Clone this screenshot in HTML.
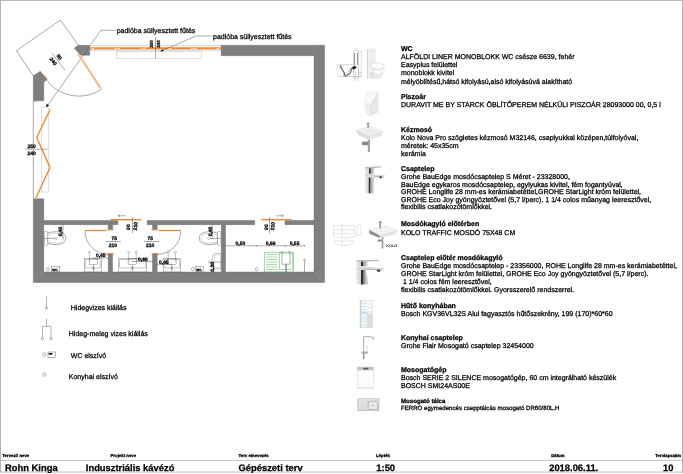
<!DOCTYPE html>
<html><head><meta charset="utf-8">
<style>
html,body{margin:0;padding:0;background:#fff;}
body{width:683px;height:474px;overflow:hidden;position:relative;font-family:"Liberation Sans",sans-serif;}
svg{position:absolute;left:0;top:0;opacity:0.999;}
text{font-family:"Liberation Sans",sans-serif;fill:#000;stroke:#000;stroke-width:0.26px;text-rendering:geometricPrecision;}
.t{font-size:7px;}
.b{font-size:7px;font-weight:bold;}
.w{fill:#7f7f7f;}
.l{stroke:#555;stroke-width:0.5;fill:none;}
.o{stroke:#f58634;fill:none;}
.d{font-size:5px;font-weight:bold;}
</style></head><body>
<svg width="683" height="474" viewBox="0 0 683 474">
<!-- page border -->
<rect x="0" y="0" width="683" height="0.900" fill="#b4b4b4"/>
<rect x="0" y="0" width="1" height="472.500" fill="#b4b4b4"/>
<rect x="682" y="0" width="1" height="472.500" fill="#b4b4b4"/>
<rect x="0" y="471.600" width="683" height="0.900" fill="#b4b4b4"/>

<!-- WALLS -->
<g class="w" stroke="#5c5c5c" stroke-width="0.35" stroke-linejoin="miter">
<polygon points="221.1,45.2 324.600,45.2 324.600,282.500 33.3,282.500 33.3,198.7 43.8,198.7 43.8,220.5 117.8,220.5 117.8,224.7 112.6,224.7 112.6,229.5 108.2,229.5 108.2,224.7 43.8,224.7 43.8,272 108.2,272 108.2,253.7 112.6,253.7 112.6,272 152.5,272 152.5,253.7 157.2,253.7 157.2,272 221.3,272 221.3,224.7 157.2,224.7 157.2,229.5 152.5,229.5 152.5,224.7 147.2,224.7 147.2,220.5 254.7,220.5 254.7,224.7 225.5,224.7 225.5,272 314,272 314,224.7 285,224.7 285,220.5 314,220.5 314,55.7 221.1,55.7"/>
<polygon points="33.3,75.8 40.3,71.2 47,79.2 43.8,82.5 43.8,100.8 33.3,100.8"/>
<polygon points="74.2,48.3 78.3,45.3 89.7,45.3 89.7,55.3 80.8,55.3"/>
</g>
<line x1="314" y1="272" x2="324.8" y2="282.6" stroke="#a0a0a0" stroke-width="0.5"/>
<line x1="43.8" y1="272" x2="33.3" y2="282.6" stroke="#a0a0a0" stroke-width="0.5"/>
<line x1="314" y1="55.7" x2="314" y2="45.3" stroke="#9a9a9a" stroke-width="0.4"/>
<line x1="89.700" y1="45.300" x2="80.800" y2="55.300" stroke="#999" stroke-width="0.400"/>
<line x1="33.500" y1="75.800" x2="43.800" y2="82" stroke="#a5a5a5" stroke-width="0.350"/>

<!-- Door swing top-left -->
<polyline class="l" points="33.3,75.8 16.3,50.8 60.5,20 78.3,45.3"/>
<path class="l" d="M101.5,89.3 A40.700,40.700 0 0 1 46.2,79.8"/>
<line class="l" x1="52" y1="53" x2="65" y2="70.3"/>
<!-- leader 1 -->
<polyline class="l" points="116.3,30.3 100.8,30.3 46.400,107.200"/>
<polygon points="46.300,107.400 46.500,103.800 49,105.600" fill="#000"/>
<!-- door leaf -->
<line x1="78" y1="53.500" x2="100.8" y2="88.5" stroke="#f7a05e" stroke-width="1.800"/>
<line x1="78" y1="53.500" x2="100.8" y2="88.5" stroke="#fff" stroke-width="1" stroke-dasharray="0.500 0.700"/>
<line x1="44.5" y1="75.5" x2="47" y2="79.5" stroke="#f58634" stroke-width="0.9"/>
<line x1="34" y1="101.2" x2="37.5" y2="101.2" stroke="#f58634" stroke-width="0.8"/>
<text class="d" text-anchor="middle" transform="translate(53.3,61.200) rotate(53)" y="1.800">240</text>
<text class="d" text-anchor="middle" transform="translate(59.3,57) rotate(53)" y="1.800">90</text>

<!-- top window -->
<rect x="90" y="45.400" width="131" height="5.500" fill="#fff" stroke="#aaa" stroke-width="0.400"/>
<line x1="90" y1="48.400" x2="221" y2="48.400" stroke="#f58634" stroke-width="2.400"/>
<g fill="#fff"><rect x="91.500" y="48" width="2.500" height="0.800"/><rect x="114.500" y="48" width="2.300" height="0.800"/><rect x="117.700" y="48" width="2.300" height="0.800"/><rect x="141" y="48" width="1.800" height="0.800"/><rect x="143.500" y="48" width="1.800" height="0.800"/><rect x="168.500" y="48" width="3" height="0.800"/><rect x="191" y="48" width="2.300" height="0.800"/><rect x="194.200" y="48" width="2.300" height="0.800"/><rect x="216.500" y="48" width="2.500" height="0.800"/></g>
<rect x="116.2" y="51.7" width="85.3" height="6.6" fill="none" stroke="#b0b0b0" stroke-width="0.400"/>
<line class="l" x1="155.500" y1="37" x2="155.500" y2="58.500"/>
<text class="d" style="font-size:4.500px" text-anchor="middle" transform="translate(152.700,44) rotate(-90)">300</text>
<text class="d" style="font-size:4.500px" text-anchor="middle" transform="translate(159.900,44) rotate(-90)">240</text>
<polyline class="l" points="212,36 196,36 160.500,51.300"/>
<polygon points="160.300,51.500 162.800,49.300 163.500,51.100" fill="#000"/>
<text class="t" x="116.7" y="33.2">padlóba süllyesztett fűtés</text>
<text class="t" x="213" y="38.6">padlóba süllyesztett fűtés</text>

<!-- left window -->
<line class="l" x1="33.3" y1="101" x2="33.3" y2="198.7" stroke="#888"/>
<rect x="41.3" y="107" width="7.2" height="85" fill="none" stroke="#b0b0b0" stroke-width="0.400"/>
<polyline class="o" points="50,109.7 36.7,137.5 50,167.5 35.8,198.3" stroke-width="1.400"/>
<g fill="#fff" stroke="#f58634" stroke-width="0.300"><circle cx="36.700" cy="137.500" r="0.700"/><circle cx="50" cy="167.500" r="0.700"/><circle cx="49.800" cy="110.200" r="0.600"/><circle cx="36" cy="197.800" r="0.600"/></g>
<line class="l" x1="25.3" y1="149.2" x2="47.5" y2="149.2"/>
<text class="d" x="27.5" y="147.6">250</text>
<text class="d" x="27.5" y="154.6">240</text>

<!-- sliding doors -->
<line x1="110.300" y1="219.700" x2="141.300" y2="219.700" stroke="#f58634" stroke-width="1.400"/>
<line x1="261.3" y1="219.700" x2="291.7" y2="219.700" stroke="#f58634" stroke-width="1.400"/>
<g stroke="#666" stroke-width="0.500" fill="none">
<path d="M126,215.8 H118 M120,214.5 L118,215.8 L120,217"/>
<path d="M276.3,215.8 H283.5 M281.5,214.5 L283.5,215.8 L281.5,217"/>
</g>
<line class="l" x1="132.500" y1="217.200" x2="132.500" y2="233.300"/>
<line class="l" x1="269.500" y1="217.200" x2="269.500" y2="233.300"/>
<text class="d" text-anchor="middle" transform="translate(130.300,227.100) rotate(-90)">90</text>
<text class="d" text-anchor="middle" transform="translate(137.200,226.300) rotate(-84)">210</text>
<text class="d" text-anchor="middle" transform="translate(267.600,227.100) rotate(-90)">90</text>
<text class="d" text-anchor="middle" transform="translate(274.400,226.300) rotate(-84)">210</text>

<!-- swing doors -->
<line x1="85" y1="230.5" x2="106.500" y2="230.5" stroke="#f58634" stroke-width="1.300"/>
<path d="M107.700,228.300 v1.800 h5.400 v-1.800" stroke="#f58634" stroke-width="0.700" fill="none"/>
<path d="M107.700,255.300 v-1.900 h5.400 v1.900" stroke="#f58634" stroke-width="0.800" fill="none"/>
<path class="l" d="M85,231 A23.3,23.3 0 0 0 108.3,254.3" stroke="#777"/>
<line x1="158.800" y1="230.5" x2="180.8" y2="230.5" stroke="#f58634" stroke-width="1.300"/>
<path d="M152,228.300 v1.800 h5.700 v-1.800" stroke="#f58634" stroke-width="0.700" fill="none"/>
<path d="M152,255.300 v-1.900 h5.700 v1.900" stroke="#f58634" stroke-width="0.800" fill="none"/>
<path class="l" d="M180.8,231 A23.5,23.5 0 0 1 157.2,254.3" stroke="#777"/>
<line class="l" x1="105.5" y1="241.5" x2="120.8" y2="241.5"/>
<line class="l" x1="144" y1="241.5" x2="159.5" y2="241.5"/>
<text class="d" x="111.5" y="240">75</text>
<text class="d" x="108.8" y="247">210</text>
<text class="d" x="147.5" y="240">75</text>
<text class="d" x="146" y="247">210</text>

<!-- toilets -->
<g stroke="#444" stroke-width="0.450" fill="#fff">
<path d="M47.600,233 q4,-1.400 9.200,-1.300 q9,0.600 9,6.500 q0,5.900 -9,6.400 q-5.200,0.100 -9.200,-1.300 z"/>
<path d="M48.500,234.500 q3.500,-1.300 8,-1.200 q7.300,0.500 7.300,4.900 q0,4.500 -7.300,4.900 q-4.500,0.100 -8,-1.200" fill="none" stroke="#777" stroke-width="0.300"/>
<rect x="44.400" y="231.300" width="3.300" height="14.300" rx="1.200" stroke="#666" stroke-width="0.400"/>
<circle cx="56.200" cy="238.400" r="1.200" stroke="#666" stroke-width="0.350"/>
<path d="M217.400,233 q-4,-1.400 -9.200,-1.300 q-9,0.600 -9,6.500 q0,5.900 9,6.400 q5.200,0.100 9.200,-1.300 z"/>
<path d="M216.500,234.500 q-3.500,-1.300 -8,-1.200 q-7.300,0.500 -7.300,4.900 q0,4.500 7.300,4.900 q4.500,0.100 8,-1.200" fill="none" stroke="#777" stroke-width="0.300"/>
<rect x="217.500" y="231.300" width="3.300" height="14.300" rx="1.200" stroke="#666" stroke-width="0.400"/>
<circle cx="208.800" cy="238.400" r="1.200" stroke="#666" stroke-width="0.350"/>
<path d="M220.800,253.500 h-5.500 q-2.200,0 -2.600,3 l-1.300,7.500 q-0.200,4.500 4,5 h5.400 z" stroke="#666" stroke-width="0.400"/>
<path d="M220.800,255 h-4.500 q-1.500,0 -1.800,2.500 l-0.800,7 q0,3 2.600,3.300 h4.500" fill="none" stroke="#888" stroke-width="0.300"/>
<circle cx="209" cy="262" r="1" stroke="#666" stroke-width="0.350"/>
</g>
<line class="l" x1="44.500" y1="238.400" x2="55" y2="238.400" stroke-width="0.3"/>
<line class="l" x1="210" y1="238.400" x2="220.500" y2="238.400" stroke-width="0.3"/>
<line class="l" x1="62.900" y1="224.700" x2="62.900" y2="238.500" stroke="#333" stroke-width="0.400"/>
<text class="d" text-anchor="middle" transform="translate(62.200,231.500) rotate(-90)">0,40</text>
<line class="l" x1="212.400" y1="224.700" x2="212.400" y2="238.500" stroke="#333" stroke-width="0.400"/>
<text class="d" text-anchor="middle" transform="translate(211.700,231.500) rotate(-90)">0,40</text>
<line class="l" x1="213.400" y1="262" x2="213.400" y2="272" stroke="#333" stroke-width="0.400"/>
<line class="l" x1="210" y1="262" x2="221" y2="262" stroke-width="0.3"/>
<text class="d" text-anchor="middle" transform="translate(213.800,266.800) rotate(-90)">0,30</text>

<!-- sinks -->
<g stroke="#666" stroke-width="0.400" fill="none">
<rect x="84.3" y="258.200" width="17.0" height="13.800"/><rect x="85.3" y="259.400" width="15.0" height="8.500" rx="1"/><rect x="89.2" y="258.200" width="8.600" height="6.200"/><line x1="93.5" y1="264.400" x2="93.5" y2="272"/><circle cx="89.4" cy="252.300" r="1.050" fill="#fff"/><line x1="89.4" y1="253.400" x2="89.4" y2="261.500"/>
<rect x="118.4" y="258.200" width="28.4" height="13.800"/><rect x="119.4" y="259.400" width="26.4" height="8.500" rx="1"/><rect x="128.1" y="258.200" width="8.600" height="6.200"/><line x1="132.4" y1="264.400" x2="132.4" y2="272"/><circle cx="128.7" cy="252.300" r="1.050" fill="#fff"/><line x1="128.7" y1="253.400" x2="128.7" y2="261.500"/><circle cx="136.2" cy="252.300" r="1.050" fill="#fff"/><line x1="136.2" y1="253.400" x2="136.2" y2="261.500"/>
<rect x="163.2" y="258.200" width="17.2" height="13.800"/><rect x="164.2" y="259.400" width="15.2" height="8.500" rx="1"/><rect x="167.5" y="258.200" width="8.600" height="6.200"/><line x1="171.8" y1="264.400" x2="171.8" y2="272"/><circle cx="168.2" cy="252.300" r="1.050" fill="#fff"/><line x1="168.2" y1="253.400" x2="168.2" y2="261.500"/><circle cx="175.5" cy="252.300" r="1.050" fill="#fff"/><line x1="175.5" y1="253.400" x2="175.5" y2="261.500"/>
</g>
<g stroke="#222" stroke-width="0.35" fill="none">
<path d="M92.500,266.500 l2,3.200 M94.500,266.500 l-2,3.200"/><path d="M131.400,266.500 l2,3.200 M133.400,266.500 l-2,3.200"/><path d="M170.800,266.500 l2,3.200 M172.800,266.500 l-2,3.200"/>
</g>
<line class="l" x1="93.500" y1="258" x2="108.300" y2="258" stroke="#333" stroke-width="0.35"/>
<text class="d" x="95.900" y="257">0,45</text>
<line class="l" x1="132.400" y1="261.500" x2="152.500" y2="261.500" stroke="#333" stroke-width="0.35"/>
<text class="d" x="138" y="260.800">0,60</text>
<line class="l" x1="157.200" y1="264.300" x2="171.800" y2="264.300" stroke="#333" stroke-width="0.35"/>
<text class="d" x="159" y="264">0,45</text>
<g fill="#1a7a8a"><circle cx="93.500" cy="258" r="0.450"/><circle cx="108.300" cy="258" r="0.450"/><circle cx="132.400" cy="261.500" r="0.450"/><circle cx="152.500" cy="261.500" r="0.450"/><circle cx="157.200" cy="264.300" r="0.450"/><circle cx="171.800" cy="264.300" r="0.450"/></g>

<!-- WC elszivo in plan -->
<g stroke="#555" stroke-width="0.4" fill="#fff">
<ellipse cx="47.800" cy="269.200" rx="1.400" ry="1.900"/><rect x="51.300" y="266.600" width="8.500" height="5.200"/>
<ellipse cx="192.800" cy="269" rx="1.4" ry="1.7"/><rect x="195.5" y="266.7" width="8" height="5"/>
<ellipse cx="256.7" cy="269.2" rx="1.4" ry="1.7"/>
</g>
<text x="52.200" y="270.500" style="font-size:3.200px;font-weight:bold">WC</text>
<text x="196.300" y="270.500" style="font-size:3.200px;font-weight:bold">WC</text>

<!-- kitchen dim line -->
<line class="l" x1="225.5" y1="245.8" x2="304.7" y2="245.8" stroke="#444"/>
<g fill="#1a7a8a"><circle cx="225.5" cy="245.8" r="0.6"/><circle cx="256.3" cy="245.8" r="0.6"/><circle cx="285.5" cy="245.8" r="0.6"/><circle cx="304.7" cy="245.8" r="0.6"/></g>
<text class="d" x="235.500" y="245" style="font-size:5px">0,50</text>
<text class="d" x="265.800" y="245" style="font-size:5px">0,66</text>
<text class="d" x="289.700" y="245" style="font-size:5px">0,55</text>
<!-- green sink -->
<g stroke="#3cb04a" stroke-width="0.45" fill="none">
<rect x="264.2" y="252.2" width="29.2" height="19.8"/>
<rect x="279.2" y="253" width="13.3" height="16.2"/>
<path d="M266,254.500 h11.500 M266,257 h11.500 M266,259.500 h11.500 M266,262 h11.500 M266,264.500 h11.500 M266,267 h11.500 M266,269.500 h11.500"/>
</g>
<g stroke="#6a6a6a" stroke-width="0.550" fill="none">
<path d="M282,253 v11.200 h8 v-11.200"/><path d="M285.500,264.200 v7.800 M286.500,264.200 v7.800"/>
<circle cx="282" cy="252.2" r="0.9" fill="#fff"/><circle cx="289.500" cy="252.2" r="0.9" fill="#fff"/>
<circle cx="304.500" cy="260" r="0.9"/><line x1="304.500" y1="261" x2="304.500" y2="272"/>
</g>

<!-- faint technical sketch right of plan -->
<g stroke="#c2c2c2" stroke-width="0.4" fill="none">
<path d="M333.500,225.500 h21 v11.500 q-10,3 -21,0 z M333.500,230 h21 M333.500,233.500 h21 M342,224 v14"/>
<path d="M334,241 h19 q-1,4.500 -9.500,4.500 q-8.500,0 -9.500,-4.500 z M342,240 v6"/>
<path d="M357,226 l3,-2 l1,5 v6 h-4.500 z"/>
</g>

<!-- LEGEND -->
<g stroke="#555" stroke-width="0.450" fill="none">
<line x1="46.500" y1="296.300" x2="46.500" y2="307"/><circle cx="46.500" cy="308.100" r="1.100"/>
<path d="M46.500,318.500 v7.800 M42.500,337.600 v-11.300 h8.500 v11.300"/><circle cx="42.500" cy="338.700" r="1.100"/><circle cx="51" cy="338.700" r="1.100"/>
<ellipse cx="44.300" cy="354.600" rx="1.500" ry="1.800"/><rect x="48" y="352" width="7.500" height="5.500"/>
<ellipse cx="44.300" cy="374.600" rx="1.500" ry="1.800"/>
</g>
<rect x="48.800" y="353" width="3.500" height="1.800" fill="#222"/>
<text class="t" x="70.800" y="310">Hidegvizes kiállás</text>
<text class="t" x="68.800" y="336.300">Hideg-meleg vizes kiállás</text>
<text class="t" x="70.800" y="358">WC elszívó</text>
<text class="t" x="68.800" y="379">Konyhai elszívó</text>


<!-- PRODUCT IMAGES -->
<defs>
<filter id="bl" x="-10%" y="-10%" width="120%" height="120%"><feGaussianBlur stdDeviation="0.35"/></filter>
<filter id="bl2" x="-10%" y="-10%" width="120%" height="120%"><feGaussianBlur stdDeviation="0.5"/></filter>
<linearGradient id="gw" x1="0" x2="1"><stop offset="0" stop-color="#d9d9db"/><stop offset="0.5" stop-color="#f1f1f2"/><stop offset="1" stop-color="#e2e2e4"/></linearGradient>
<linearGradient id="chr" x1="0" x2="1"><stop offset="0" stop-color="#ececec"/><stop offset="0.36" stop-color="#d6d6d6"/><stop offset="0.42" stop-color="#2a2a2a"/><stop offset="0.55" stop-color="#3c3c3c"/><stop offset="0.6" stop-color="#8e8e8e"/><stop offset="0.82" stop-color="#c6c6c6"/><stop offset="1" stop-color="#e2e2e2"/></linearGradient>
</defs>
<!-- WC tech drawing -->
<g filter="url(#bl)" fill="none" stroke="#6a6a6a" stroke-width="0.350">
<path d="M353.700,51 q2.400,-1.600 4.700,0 v27 h-4.700 z"/>
<path d="M354.600,53 v12 M357.500,53 v12" stroke="#333" stroke-width="0.500"/>
<path d="M338.500,76.500 h23.700" stroke="#777"/>
<path d="M339.800,64.700 h13" stroke="#777"/>
<path d="M339.800,64.700 q-0.500,4 2.500,6 q1.500,1 1.500,4 v1.500" stroke="#555" stroke-width="0.400"/>
<path d="M340.700,65.500 q0.600,3 2.200,5 q2,2 2.200,5.800 l2.400,-1.200 l2.800,-1.700 q0.700,-3.500 1.900,-5.400" stroke="#111" stroke-width="0.750" stroke-linejoin="round"/><path d="M347.500,75 q0.300,-3 2,-5 l1.500,-1.800" stroke="#333" stroke-width="0.400"/>
<path d="M351.800,67.800 l3.200,-1.800 l1.400,1.500 l-2.600,1.800 z" fill="#111" stroke="#111" stroke-width="0.500"/>
<path d="M353,72 q1.300,-1.300 2.500,0 v4.500" stroke="#777"/>
<path d="M361.300,51.400 v25 M358.500,51.400 h4.500 M337.500,64.700 v11.800 M336.500,64.700 h2.500 M353.700,80 h4.700 M353.700,48.300 h4.700 M360,70 v6.500 M358.500,72.500 h3" stroke="#999" stroke-width="0.300"/>
</g>
<!-- WC photo -->
<g filter="url(#bl2)">
<path d="M367,49.800 l5.500,-1.400 l3.200,0.800 v28.800 h-8.700 z" fill="#efeff1"/>
<path d="M367,49.800 l5.500,-1.400 l3.200,0.800 l-5.500,1.400 z" fill="#f8f8f9" stroke="#d5d5d8" stroke-width="0.300"/>
<path d="M367,49.800 v28.200 h1 v-28 z" fill="#d2d2d5"/>
<path d="M370.500,72 q3,1.800 7.500,1.500 q4.500,-0.500 6,-3 q-0.300,4.500 -3.300,6.200 l-0.500,2.300 h-9.200 z" fill="#e9e9eb"/>
<path d="M380.200,76.500 l3,-5.500 q-0.200,3.500 -2.500,5.700 l-0.500,2 z" fill="#d8d8db"/>
<ellipse cx="377.600" cy="66" rx="6.800" ry="3.200" fill="#fbfbfb" stroke="#c6c6ca" stroke-width="0.450" transform="rotate(4 377.600 66)"/>
<path d="M371,66.800 q1,3.600 6.700,3.700 q5.800,-0.200 6.600,-3.800" fill="none" stroke="#d0d0d3" stroke-width="0.500"/>
<path d="M370.500,72.500 h2.600 v4 h-2.600 z" fill="#dadadd"/>
</g>
<!-- urinal -->
<g filter="url(#bl2)">
<path d="M368.500,91.300 l9.800,1.500 v19.500 l-7.600,3.700 l-4.600,-3 l-2.400,-11 z" fill="#ececef"/>
<path d="M368.500,91.300 l9.800,1.500 l-7.800,11.700 l-5.300,-1.200 l-1.500,-1.300 z" fill="#f8f8f9" stroke="#dcdce0" stroke-width="0.300"/>
<path d="M378.300,92.800 v19.500 l-7.600,3.700 l-0.200,-11.500 z" fill="#e7e7ea"/>
<path d="M363.700,102 l2.400,11 l4.600,3 l-0.200,-11.500 z" fill="#efeff1"/>
<path d="M378.300,92.800 l-7.800,11.700 l0.200,11.500" fill="none" stroke="#d4d4d8" stroke-width="0.350"/>
<circle cx="373.300" cy="94.500" r="0.500" fill="#ccc"/>
</g>
<!-- handwash basin -->
<g filter="url(#bl2)">
<path d="M367.800,139 h2.200 v13 h-2.200 z" fill="#a4a4a8"/>
<path d="M362.200,141.600 h5.800 v3.600 h-5.800 z" fill="#85858a"/>
<circle cx="363.600" cy="143.400" r="1.700" fill="#8d8d92"/>
<path d="M356.100,130.200 l14.900,-3.700 l12.100,5.200 l-1.900,4.200 l-12.300,3.800 l-10.500,-4.700 z" fill="#e4e4e7"/>
<path d="M356.100,130.200 l14.900,-3.700 l12.100,5.200 l-14.200,4.300 z" fill="#f6f6f7" stroke="#d4d4d8" stroke-width="0.450"/>
<path d="M359.500,130.400 l11.300,-2.700 l8.700,3.800 l-10.600,3.100 z" fill="#ebebee"/>
<path d="M356.100,130.200 l12.800,5.800 v3.700 l-10.500,-4.700 z" fill="#dcdcdf"/>
<path d="M366.800,122.800 h2.600 v1.100 h-0.600 v3.800 h-1.400 v-3.800 h-0.600 z" fill="#8e8e93"/>
</g>
<!-- faucet 1 -->
<g filter="url(#bl)">
<path d="M365.200,174 h8.800 v19.300 h-8.800 z" fill="url(#chr)"/>
<path d="M365.200,167 h9.200 v6.700 h-9.200 z" fill="url(#chr)"/>
<path d="M365.200,167 l15.800,-0.800 v1.400 l-15.800,1.200 z" fill="#bdbdbd"/>
<path d="M365.200,173.800 l20.300,1.400 l-2.600,2.900 l-8.900,-0.700 h-8.800 z" fill="#dadada"/><path d="M374,176.600 l9,0.900 l0.700,-0.800 l-9.700,-0.900 z" fill="#b5b5b5"/>
<path d="M379.800,176.200 l2.200,0.300 l-0.500,2 l-2,-0.600 z" fill="#333"/>
</g>
<!-- tech sketch basin (faint) handled above -->
<!-- basin photo 2 -->
<g filter="url(#bl2)">
<path d="M381.700,237 h1.600 v11.600 h-1.600 z" fill="#9a9a9c"/>
<path d="M377.500,239.600 h4.400 v1.900 h-4.400 z" fill="#8c8c90"/>
<path d="M369.100,230.100 l17.400,-4.200 l10.500,4.700 l-0.500,3.400 l-16.900,4 l-10,-4.200 z" fill="#e3e3e5"/>
<path d="M369.100,230.100 l17.400,-4.200 l10.500,4.700 l-17.400,4.800 z" fill="#f2f2f3" stroke="#d8d8da" stroke-width="0.4"/>
<path d="M369.100,230.100 l10.500,5.300 v2.600 l-10,-4.200 z" fill="#8a8a8c"/>
<path d="M379.100,221.200 h2.600 v1.600 h-0.800 v5.700 h-1.300 z" fill="#8f8f93"/>
</g>
<text x="386.300" y="247.300" style="font-size:3.800px;font-weight:bold;stroke:none;fill:#333" filter="url(#bl)">KOLO</text>
<!-- faucet 2 -->
<g filter="url(#bl)">
<path d="M356.400,268.800 h9 l3.300,15.600 h-12.600 z" fill="url(#chr)"/>
<path d="M356.400,260.500 h11.400 v5.800 h-11.400 z" fill="url(#chr)"/>
<path d="M356.400,260.500 l22.400,-0.800 v1.400 l-22.400,1 z" fill="#bdbdbd"/>
<path d="M356.400,266.400 l28.500,1.600 l-2.700,2.400 l-18,-0.400 h-7.800 z" fill="#dadada"/><path d="M364,269.300 l18.200,1.100 l0.800,-0.800 l-19,-1 z" fill="#b5b5b5"/>
<path d="M377,269.600 l3.300,0.400 l-0.600,2 l-2.700,-0.700 z" fill="#333"/>
</g>
<!-- fridge -->
<g filter="url(#bl2)">
<rect x="359.800" y="300" width="13.300" height="28" fill="#e1e3e2"/>
<rect x="359.800" y="300" width="1.600" height="28" fill="#cdd0cf"/>
<rect x="361.600" y="301" width="10.800" height="10.800" fill="#f1f6f9"/>
<rect x="361.600" y="314.500" width="5.600" height="12.500" fill="#edf3f7"/>
<path d="M367.200,314.300 l5.200,1 v12.200 l-5.200,0.300 z" fill="#d9dbdc"/>
<rect x="367.500" y="301.500" width="4.800" height="10" fill="#f6f9fb"/>
<path d="M362,303.500 h5 M362,306.500 h5 M362,309.500 h5 M367.800,304 h4.200 M367.800,307.500 h4.200 M362,318 h5 M362,321.500 h5 M362,325 h5" stroke="#c9dcea" stroke-width="0.600" fill="none"/>
<rect x="361.600" y="311.800" width="10.800" height="1.300" fill="#c2d6e5"/>
<rect x="367.200" y="311.500" width="5" height="2.800" fill="#e6edf2"/>
</g>
<!-- kitchen faucet -->
<g filter="url(#bl)" fill="none">
<path d="M363.600,359 v-20.500 q0,-2.300 2.300,-2.100 l6,0.800 q2,0.400 1.700,2.800" stroke="#b4b9c1" stroke-width="1.250"/>
<path d="M367,345.200 v5.300" stroke="#dfe2e6" stroke-width="1.300"/>
<path d="M361.500,352.600 h6.300" stroke="#a7acb5" stroke-width="2.200"/>
<path d="M363.600,354 v5" stroke="#8d929b" stroke-width="1.400"/>
</g>
<!-- dishwasher -->
<g filter="url(#bl)">
<rect x="357.300" y="367" width="16.400" height="21.500" fill="#fcfcfc" stroke="#dcdde0" stroke-width="0.600"/>
<rect x="357.300" y="367" width="16.400" height="3.300" fill="#c3c4c6"/>
<rect x="363.200" y="367.800" width="5.100" height="1.700" fill="#5c5c5c"/>
<rect x="357.600" y="387" width="15.800" height="1.200" fill="#e6e9ee"/>
</g>
<!-- sink tray -->
<g filter="url(#bl)">
<rect x="357.800" y="398.700" width="21.200" height="12" fill="#d2d2d2" stroke="#b2b2b2" stroke-width="0.500"/>
<rect x="359" y="399.800" width="8.500" height="9.800" fill="#dedede"/>
<rect x="358.300" y="399.200" width="20.200" height="1.300" fill="#e6e6e6"/>
<rect x="368.300" y="401.600" width="9.200" height="7.900" rx="1.500" fill="#eaeaea" stroke="#a6a6a6" stroke-width="0.600"/>
<circle cx="372.900" cy="405.500" r="0.800" fill="#a5a5a5"/>
</g>

<!-- RIGHT TEXT -->
<text class="b" x="401" y="51.0">WC</text>
<text class="t" x="401" y="58.8">ALFÖLDI LINER MONOBLOKK WC csésze 6639, fehér</text>
<text class="t" x="401" y="67.0">Easyplus felülettel</text>
<text class="t" x="401" y="75.3">monoblokk kivitel</text>
<text class="t" x="401" y="83.5">mélyöblítésű,hátsó kifolyású,alsó kifolyásúvá alakítható</text>
<text class="b" x="401" y="99.0">Piszoár</text>
<text class="t" x="401" y="107.0">DURAVIT ME BY STARCK ÖBLÍTŐPEREM NÉLKÜLI PISZOÁR 28093000 00, 0,5 l</text>
<text class="b" x="401" y="131.5">Kézmosó</text>
<text class="t" x="401" y="139.5">Kolo Nova Pro szögletes kézmosó M32146, csaplyukkal középen,túlfolyóval,</text>
<text class="t" x="401" y="147.8">méretek: 45x35cm</text>
<text class="t" x="401" y="156.0">kerámia</text>
<text class="b" x="401" y="171.4">Csaptelep</text>
<text class="t" x="401" y="179.4">Grohe BauEdge mosdócsaptelep S Méret - 23328000,</text>
<text class="t" x="401" y="186.9">BauEdge egykaros mosdócsaptelep, egylyukas kivitel, fém fogantyúval,</text>
<text class="t" x="401" y="194.4">GROHE Longlife 28 mm-es kerámiabetéttel,GROHE StarLight króm felülettel,</text>
<text class="t" x="401" y="201.9">GROHE Eco Joy gyöngyöztetővel (5,7 l/perc). 1 1/4 colos műanyag leeresztővel,</text>
<text class="t" x="401" y="209.4">flexibilis csatlakozótömlőkkel.</text>
<text class="b" x="401" y="226.4">Mosdókagyló előtérben</text>
<text class="t" x="401" y="235.2">KOLO TRAFFIC MOSDÓ 75X48 CM</text>
<text class="b" x="401" y="260.4">Csaptelep előtér mosdókagyló</text>
<text class="t" x="401" y="268.1">Grohe BauEdge mosdócsaptelep - 23356000, ROHE Longlife 28 mm-es kerámiabetéttel,</text>
<text class="t" x="401" y="275.9">GROHE StarLight króm felülettel, GROHE Eco Joy gyöngyöztetővel (5,7 l/perc).</text>
<text class="t" x="401" y="283.9">&#160;1 1/4 colos fém leeresztővel,</text>
<text class="t" x="401" y="292.2">flexibilis csatlakozótömlőkkel. Gyorsszerelő rendszerrel.</text>
<text class="b" x="401" y="308">Hűtő konyhában</text>
<text class="t" x="401" y="315.7">Bosch KGV36VL32S Alul fagyasztós hűtőszekrény, 199 (170)*60*60</text>
<text class="b" x="401" y="339.8">Konyhai csaptelep</text>
<text class="t" x="401" y="347.8">Grohe Flair Mosogató csaptelep 32454000</text>
<text class="b" x="401" y="371.6">Mosogatógép</text>
<text class="t" x="401" y="379.5">Bosch SERIE 2 SILENCE mosogatógép, 60 cm integrálható készülék</text>
<text class="t" x="401" y="387.8">BOSCH SMI24AS00E</text>
<text class="b" x="401" y="402.5" style="font-size:6.100px">Mosogató tálca</text>
<text class="t" x="401" y="409.5" style="font-size:6.100px">FERRO egymedencés csepptálcás mosogató DR60/80L.H</text>

<!-- TITLE BLOCK -->
<rect x="0" y="459.900" width="683" height="0.800" fill="#b4b4b4"/>
<g style="font-size:4.300px;font-weight:bold">
<text x="2.300" y="457">Tervező neve</text>
<text x="110.500" y="457">Projekt neve</text>
<text x="238.500" y="457">Terv elnevezés</text>
<text x="376" y="457">Lépték</text>
<text x="551.200" y="457">Dátum</text>
<text x="655.300" y="457">Tervlapszám</text>
</g>
<g style="font-size:9.4px;font-weight:bold">
<text x="5" y="470.600">Rohn Kinga</text>
<text x="85.800" y="470.600">Indusztriális kávézó</text>
<text x="238.500" y="470.600">Gépészeti terv</text>
<text x="376.300" y="470.600">1:50</text>
<text x="549.200" y="470.600">2018.06.11.</text>
<text x="663" y="470.600">10</text>
</g>
</svg>
</body></html>
